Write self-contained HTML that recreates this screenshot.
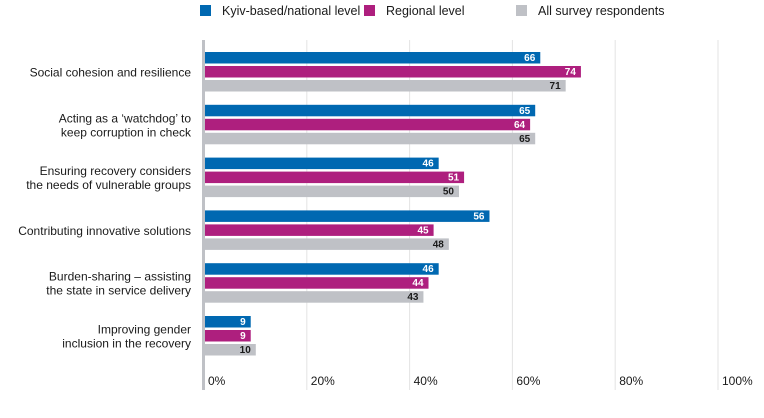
<!DOCTYPE html>
<html><head><meta charset="utf-8"><style>
body{margin:0;background:#fff;font-family:"Liberation Sans",Arial,sans-serif}
svg text{font-family:"Liberation Sans",Arial,sans-serif}
</style></head><body>
<svg id="chart" width="764" height="413" xmlns="http://www.w3.org/2000/svg"></svg>
<script>
const categories=[["Social cohesion and resilience"],["Acting as a ‘watchdog’ to","keep corruption in check"],["Ensuring recovery considers","the needs of vulnerable groups"],["Contributing innovative solutions"],["Burden-sharing – assisting","the state in service delivery"],["Improving gender","inclusion in the recovery"]];
const seriesNames=["Kyiv-based/national level","Regional level","All survey respondents"];
const kyiv=[66,65,46,56,46,9];
const regional=[74,64,51,45,44,9];
const all=[71,65,50,48,43,10];
const ticks=[0,20,40,60,80,100];
const tickLabels=["0%","20%","40%","60%","80%","100%"];
const series=[kyiv,regional,all];
const colors=["#0068b1","#ae1f7e","#bfc1c6"];
const textColors=["#fff","#fff","#1a1a1a"];
const svg=document.getElementById('chart');
const NS="http://www.w3.org/2000/svg";
const x0=205,pxPer=5.08;
const xs=v=>x0+v*pxPer;
const gx=v=>204+v*5.14;
const groupTop=g=>52+g*52.8;
function mk(t,a,p){const e=document.createElementNS(NS,t);for(const k in a)e.setAttribute(k,a[k]);(p||svg).appendChild(e);return e;}
ticks.forEach((t,i)=>{
 if(t>0){const l=mk('line',{x1:gx(t),x2:gx(t),y1:40,y2:390,stroke:'#e3e3e3','stroke-width':1});
 
 }
 const tx=mk('text',{x:gx(t)+4,y:385,'font-size':12,fill:'#1a1a1a'});tx.textContent=tickLabels[i];
 
 
});
const ax=mk('rect',{x:202,y:40,width:3,height:350,fill:'#bfc1c6'});


categories.forEach((c,g)=>{
 const top=groupTop(g);
 const lab=mk('text',{'text-anchor':'end','font-size':12,fill:'#1a1a1a'});
 
 
 const cy=top+20.5, n=c.length;
 c.forEach((line,j)=>{const ts=mk('tspan',{x:191,y:cy+4+(j-(n-1)/2)*14},lab);ts.textContent=line;});
 series.forEach((s,k)=>{
  const y=top+k*14;
  const r=mk('rect',{x:x0,y:y,width:xs(s[g])-x0,height:11.5,fill:colors[k]});
  
  
  const t=mk('text',{x:xs(s[g])-5,y:y+9,'text-anchor':'end','font-size':10,'font-weight':'bold',fill:textColors[k]});
  t.textContent=s[g];
  
  
 });
});
const legX=[200,364,516];
seriesNames.forEach((n,k)=>{
 const r=mk('rect',{x:legX[k],y:5,width:11,height:11,fill:colors[k]});
 
 
 const t=mk('text',{x:legX[k]+22,y:15,'font-size':12.5,fill:'#1a1a1a'});t.textContent=n;
 
 
});
</script>
</body></html>
